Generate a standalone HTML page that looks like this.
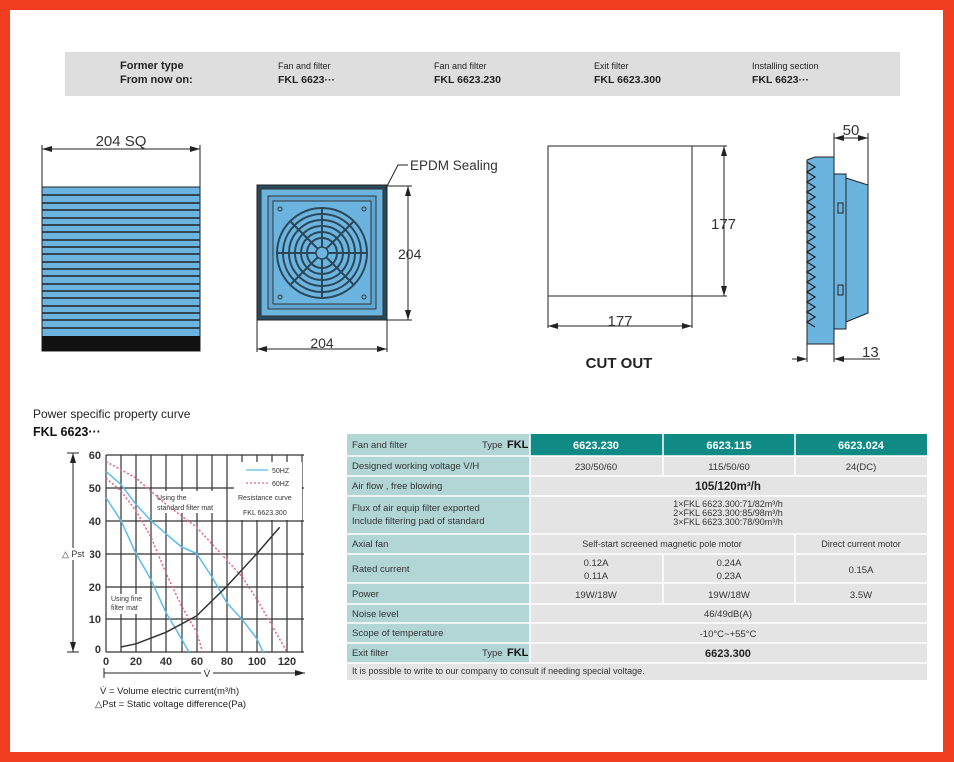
<!DOCTYPE html>
<html><head><meta charset="utf-8"><style>
html,body{margin:0;padding:0;background:#fff}
svg{display:block}
text{font-family:"Liberation Sans",Arial,sans-serif}
</style></head><body>
<svg width="954" height="762" viewBox="0 0 954 762" xmlns="http://www.w3.org/2000/svg">
<defs>
<marker id="ar" viewBox="0 0 10 6" refX="10" refY="3" markerWidth="10" markerHeight="6" orient="auto-start-reverse" markerUnits="userSpaceOnUse"><path d="M0,0 L10,3 L0,6z" fill="#222"/></marker>
</defs>
<rect x="0" y="0" width="954" height="762" fill="#f03c1f"/>
<rect x="10" y="10" width="933" height="742" fill="#fff"/>

<!-- header bar -->
<rect x="65" y="52" width="835" height="44" fill="#dedede"/>
<g font-size="11" fill="#222">
<text x="120" y="69" font-weight="bold">Former type</text>
<text x="120" y="83" font-weight="bold">From now on:</text>
<text x="278" y="69" font-size="9">Fan and filter</text>
<text x="278" y="83" font-weight="bold" font-size="10.5">FKL 6623···</text>
<text x="434" y="69" font-size="9">Fan and filter</text>
<text x="434" y="83" font-weight="bold" font-size="10.5">FKL 6623.230</text>
<text x="594" y="69" font-size="9">Exit filter</text>
<text x="594" y="83" font-weight="bold" font-size="10.5">FKL 6623.300</text>
<text x="752" y="69" font-size="9">Installing section</text>
<text x="752" y="83" font-weight="bold" font-size="10.5">FKL 6623···</text>
</g>

<!-- front filter -->
<g stroke="#222" fill="none" stroke-width="1">
<line x1="42" y1="145" x2="42" y2="187"/><line x1="200" y1="145" x2="200" y2="187"/>
<line x1="42" y1="149" x2="200" y2="149" marker-start="url(#ar)" marker-end="url(#ar)"/>
</g>
<text x="121" y="146" font-size="15" text-anchor="middle" fill="#333">204 SQ</text>
<rect x="42" y="187" width="158" height="164" fill="#6cb4e0" stroke="#222"/>
<g stroke="#222" stroke-width="1.6">
<line x1="42" y1="195" x2="200" y2="195"/><line x1="42" y1="203" x2="200" y2="203"/><line x1="42" y1="210" x2="200" y2="210"/><line x1="42" y1="218" x2="200" y2="218"/><line x1="42" y1="225" x2="200" y2="225"/><line x1="42" y1="232" x2="200" y2="232"/><line x1="42" y1="240" x2="200" y2="240"/><line x1="42" y1="247" x2="200" y2="247"/><line x1="42" y1="254" x2="200" y2="254"/><line x1="42" y1="262" x2="200" y2="262"/><line x1="42" y1="269" x2="200" y2="269"/><line x1="42" y1="276" x2="200" y2="276"/><line x1="42" y1="284" x2="200" y2="284"/><line x1="42" y1="291" x2="200" y2="291"/><line x1="42" y1="298" x2="200" y2="298"/><line x1="42" y1="306" x2="200" y2="306"/><line x1="42" y1="313" x2="200" y2="313"/><line x1="42" y1="320" x2="200" y2="320"/><line x1="42" y1="328" x2="200" y2="328"/>
</g>
<rect x="42" y="336" width="158" height="15" fill="#111"/>

<!-- fan view -->
<rect x="257" y="185" width="130" height="135" fill="#2a4a5c" stroke="#222"/>
<rect x="261" y="189" width="122" height="127" fill="#6cb4e0" stroke="#333"/>
<rect x="268" y="196" width="108" height="113" fill="#5fa7d2" stroke="#333"/>
<rect x="273" y="201" width="98" height="103" fill="#6cb4e0" stroke="#333"/>
<g fill="none" stroke="#2b4758" stroke-width="2">
<circle cx="322" cy="253" r="45"/><circle cx="322" cy="253" r="39"/><circle cx="322" cy="253" r="33"/><circle cx="322" cy="253" r="27"/><circle cx="322" cy="253" r="21"/><circle cx="322" cy="253" r="15"/>
<line x1="277" y1="253" x2="367" y2="253"/><line x1="322" y1="208" x2="322" y2="298"/>
<line x1="290" y1="221" x2="354" y2="285"/><line x1="354" y1="221" x2="290" y2="285"/>
</g>
<circle cx="322" cy="253" r="6" fill="#6cb4e0" stroke="#2b4758" stroke-width="1.5"/>
<g fill="none" stroke="#333"><circle cx="280" cy="209" r="2"/><circle cx="364" cy="209" r="2"/><circle cx="280" cy="297" r="2"/><circle cx="364" cy="297" r="2"/></g>
<g stroke="#222" fill="none">
<line x1="387" y1="186" x2="412" y2="186"/><line x1="387" y1="320" x2="412" y2="320"/>
<line x1="408" y1="186" x2="408" y2="320" marker-start="url(#ar)" marker-end="url(#ar)"/>
<line x1="257" y1="320" x2="257" y2="352"/><line x1="387" y1="320" x2="387" y2="352"/>
<line x1="257" y1="349" x2="387" y2="349" marker-start="url(#ar)" marker-end="url(#ar)"/>
<polyline points="385,190 398,165 408,165"/>
</g>
<text x="410" y="170" font-size="13.5" fill="#333">EPDM Sealing</text>
<text x="398" y="259" font-size="14" fill="#333">204</text>
<text x="322" y="348" font-size="14" fill="#333" text-anchor="middle">204</text>

<!-- cut out -->
<rect x="548" y="146" width="144" height="150" fill="#fff" stroke="#222"/>
<g stroke="#222" fill="none">
<line x1="692" y1="146" x2="727" y2="146"/><line x1="692" y1="296" x2="727" y2="296"/>
<line x1="724" y1="146" x2="724" y2="296" marker-start="url(#ar)" marker-end="url(#ar)"/>
<line x1="548" y1="296" x2="548" y2="328"/><line x1="692" y1="296" x2="692" y2="328"/>
<line x1="548" y1="326" x2="692" y2="326" marker-start="url(#ar)" marker-end="url(#ar)"/>
</g>
<text x="711" y="229" font-size="15" fill="#333">177</text>
<text x="620" y="326" font-size="15" fill="#333" text-anchor="middle">177</text>
<text x="619" y="368" font-size="15" font-weight="bold" fill="#222" text-anchor="middle">CUT OUT</text>

<!-- side view -->
<g stroke="#222" fill="none">
<line x1="834" y1="133" x2="834" y2="186"/><line x1="868" y1="133" x2="868" y2="186"/>
<line x1="834" y1="138" x2="868" y2="138" marker-start="url(#ar)" marker-end="url(#ar)"/>
<line x1="807" y1="344" x2="807" y2="362"/><line x1="834" y1="344" x2="834" y2="362"/>
<line x1="792" y1="359" x2="807" y2="359" marker-end="url(#ar)"/>
<line x1="834" y1="359" x2="880" y2="359" marker-start="url(#ar)"/>
</g>
<text x="851" y="135" font-size="15" fill="#333" text-anchor="middle">50</text>
<text x="862" y="357" font-size="15" fill="#333">13</text>
<path d="M807,344 L807,160 L815,157 L834,157 L834,344 Z" fill="#6cb4e0" stroke="#222"/>
<polyline fill="none" stroke="#222" stroke-width="1.3" points="807,162 815,167 807,172 815,177 807,182 815,187 807,192 815,197 807,202 815,207 807,212 815,217 807,222 815,227 807,232 815,237 807,242 815,247 807,252 815,257 807,262 815,267 807,272 815,277 807,282 815,287 807,292 815,297 807,302 815,307 807,312 815,317 807,322 815,327"/>
<rect x="834" y="174" width="12" height="155" fill="#6cb4e0" stroke="#222"/>
<path d="M846,178 L868,185 L868,313 L846,322 Z" fill="#6cb4e0" stroke="#222"/>
<rect x="838" y="203" width="5" height="10" fill="none" stroke="#222"/>
<rect x="838" y="285" width="5" height="10" fill="none" stroke="#222"/>

<!-- chart -->
<text x="33" y="418" font-size="12" fill="#222">Power specific property curve</text>
<text x="33" y="436" font-size="12.5" font-weight="bold" fill="#111">FKL 6623···</text>
<g stroke="#333" stroke-width="1.2">
<line x1="106" y1="455" x2="106" y2="652"/><line x1="121" y1="455" x2="121" y2="652"/><line x1="136" y1="455" x2="136" y2="652"/><line x1="151" y1="455" x2="151" y2="652"/><line x1="166" y1="455" x2="166" y2="652"/><line x1="182" y1="455" x2="182" y2="652"/><line x1="197" y1="455" x2="197" y2="652"/><line x1="212" y1="455" x2="212" y2="652"/><line x1="227" y1="455" x2="227" y2="652"/><line x1="242" y1="455" x2="242" y2="652"/><line x1="257" y1="455" x2="257" y2="652"/><line x1="272" y1="455" x2="272" y2="652"/><line x1="287" y1="455" x2="287" y2="652"/><line x1="302" y1="455" x2="302" y2="652"/>
<line x1="106" y1="455" x2="304" y2="455"/><line x1="106" y1="488" x2="304" y2="488"/><line x1="106" y1="521" x2="304" y2="521"/><line x1="106" y1="554" x2="304" y2="554"/><line x1="106" y1="587" x2="304" y2="587"/><line x1="106" y1="619" x2="304" y2="619"/><line x1="106" y1="652" x2="304" y2="652"/>
</g>
<rect x="234" y="462" width="68" height="58" fill="#fff"/>
<line x1="246" y1="470" x2="268" y2="470" stroke="#5bbde8" stroke-width="1.2"/>
<line x1="246" y1="483" x2="268" y2="483" stroke="#e8608a" stroke-width="1.2" stroke-dasharray="2,2"/>
<g font-size="7" fill="#333">
<text x="272" y="473">50HZ</text><text x="272" y="486">60HZ</text>
<text x="238" y="500">Resistance curve</text><text x="243" y="515">FKL 6623.300</text>
<rect x="156" y="491" width="62" height="22" fill="#fff" stroke="none"/>
<text x="157" y="500">Using the</text><text x="157" y="510">standard filter mat</text>
<rect x="110" y="594" width="38" height="20" fill="#fff" stroke="none"/>
<text x="111" y="601">Using fine</text><text x="111" y="610">filter mat</text>
</g>
<g fill="none" stroke-width="1.5" stroke-linejoin="round">
<polyline stroke="#5bbde8" points="106,497.7 121,520.7 136,553.5 151,579.8 166,612.6 181.5,638.9 189,652"/>
<polyline stroke="#e8608a" stroke-dasharray="2,2" points="106,478 121,491.1 136,510.8 151,537.1 166,573.2 181.5,606 196.6,632.3 202.6,652"/>
<polyline stroke="#5bbde8" points="106,471.4 121,484.6 136,504.3 151,520.7 166,533.8 181.5,547 196.6,553.5 211.7,576.5 226.8,602.8 241.9,619.2 257,638.9 263,652"/>
<polyline stroke="#e8608a" stroke-dasharray="2,2" points="106,461.6 136,478 166,504.3 196.6,527.2 226.8,560.1 241.9,576.5 257,599.5 272,625.7 287,652"/>
<polyline stroke="#333" points="121,647 136,643.8 166,632.3 196.6,615.9 226.8,586.3 257,553.5 279.7,527.2"/>
</g>
<g font-size="11" font-weight="bold" fill="#333" text-anchor="end">
<text x="101" y="459">60</text><text x="101" y="492">50</text><text x="101" y="525">40</text><text x="101" y="558">30</text><text x="101" y="591">20</text><text x="101" y="623">10</text><text x="101" y="653">0</text>
</g>
<g font-size="11" font-weight="bold" fill="#333" text-anchor="middle">
<text x="106" y="665">0</text><text x="136" y="665">20</text><text x="166" y="665">40</text><text x="197" y="665">60</text><text x="227" y="665">80</text><text x="257" y="665">100</text><text x="287" y="665">120</text>
</g>
<g stroke="#222" fill="none">
<line x1="73" y1="453" x2="73" y2="652" marker-start="url(#ar)" marker-end="url(#ar)"/>
<line x1="67" y1="453" x2="79" y2="453"/><line x1="67" y1="652" x2="79" y2="652"/>
<line x1="104" y1="673" x2="201" y2="673"/><line x1="213" y1="673" x2="305" y2="673" marker-end="url(#ar)"/>
<line x1="104" y1="668" x2="104" y2="678"/>
</g>
<rect x="60" y="548" width="30" height="12" fill="#fff"/>
<text x="62" y="557" font-size="9" fill="#333">△ Pst</text>
<text x="207" y="677" font-size="10" fill="#333" text-anchor="middle">V̇</text>
<text x="100" y="694" font-size="9.5" fill="#222">V̇   = Volume electric current(m³/h)</text>
<text x="95" y="707" font-size="9.5" fill="#222">△Pst = Static voltage difference(Pa)</text>

<!-- table -->
<g>
<rect x="347" y="434" width="580" height="246" fill="#fff"/>
<rect x="347" y="434" width="183" height="229" fill="#b2d5d5"/>
<rect x="530" y="456" width="397" height="207" fill="#e4e4e4"/>
<rect x="347" y="663" width="580" height="17" fill="#e4e4e4"/>
<rect x="530" y="434" width="397" height="22" fill="#0f8a84"/>
<g stroke="#fff" stroke-width="1.5">
<line x1="347" y1="456" x2="927" y2="456"/><line x1="347" y1="476" x2="927" y2="476"/><line x1="347" y1="496" x2="927" y2="496"/><line x1="347" y1="534" x2="927" y2="534"/><line x1="347" y1="554" x2="927" y2="554"/><line x1="347" y1="583" x2="927" y2="583"/><line x1="347" y1="604" x2="927" y2="604"/><line x1="347" y1="623" x2="927" y2="623"/><line x1="347" y1="643" x2="927" y2="643"/><line x1="347" y1="663" x2="927" y2="663"/>
<line x1="530" y1="434" x2="530" y2="663"/>
<line x1="663" y1="434" x2="663" y2="476"/><line x1="795" y1="434" x2="795" y2="476"/>
<line x1="795" y1="534" x2="795" y2="604"/><line x1="663" y1="554" x2="663" y2="604"/>
</g>
<g font-size="9.5" fill="#333">
<text x="352" y="448">Fan and filter</text><text x="482" y="448">Type</text><text x="507" y="448" font-weight="bold" font-size="11" fill="#111">FKL</text>
<text x="352" y="469">Designed working voltage V/H</text>
<text x="352" y="489">Air flow , free blowing</text>
<text x="352" y="511">Flux of air  equip filter exported</text>
<text x="352" y="524">Include filtering pad of standard</text>
<text x="352" y="547">Axial fan</text>
<text x="352" y="572">Rated current</text>
<text x="352" y="597">Power</text>
<text x="352" y="617">Noise level</text>
<text x="352" y="636">Scope of temperature</text>
<text x="352" y="656">Exit filter</text><text x="482" y="656">Type</text><text x="507" y="656" font-weight="bold" font-size="11" fill="#111">FKL</text>
<text x="352" y="674" font-size="9">It is possible to write to our company to consult if needing special voltage.</text>
</g>
<g font-size="11" fill="#fff" font-weight="bold" text-anchor="middle">
<text x="596" y="449">6623.230</text><text x="729" y="449">6623.115</text><text x="861" y="449">6623.024</text>
</g>
<g font-size="9.5" fill="#333" text-anchor="middle">
<text x="596" y="470">230/50/60</text><text x="729" y="470">115/50/60</text><text x="861" y="470">24(DC)</text>
<text x="728" y="490" font-size="11.5" font-weight="bold" fill="#222">105/120m³/h</text>
<text x="728" y="507" font-size="9">1×FKL  6623.300:71/82m³/h</text>
<text x="728" y="516" font-size="9">2×FKL  6623.300:85/98m³/h</text>
<text x="728" y="525" font-size="9">3×FKL  6623.300:78/90m³/h</text>
<text x="662" y="547" font-size="9">Self-start screened magnetic pole motor</text>
<text x="861" y="547" font-size="9">Direct current motor</text>
<text x="596" y="566">0.12A</text><text x="596" y="579">0.11A</text>
<text x="729" y="566">0.24A</text><text x="729" y="579">0.23A</text>
<text x="861" y="573">0.15A</text>
<text x="596" y="598">19W/18W</text><text x="729" y="598">19W/18W</text><text x="861" y="598">3.5W</text>
<text x="728" y="617">46/49dB(A)</text>
<text x="728" y="637">-10°C~+55°C</text>
<text x="728" y="657" font-size="11" font-weight="bold" fill="#222">6623.300</text>
</g>
</g>
</svg>
</body></html>
